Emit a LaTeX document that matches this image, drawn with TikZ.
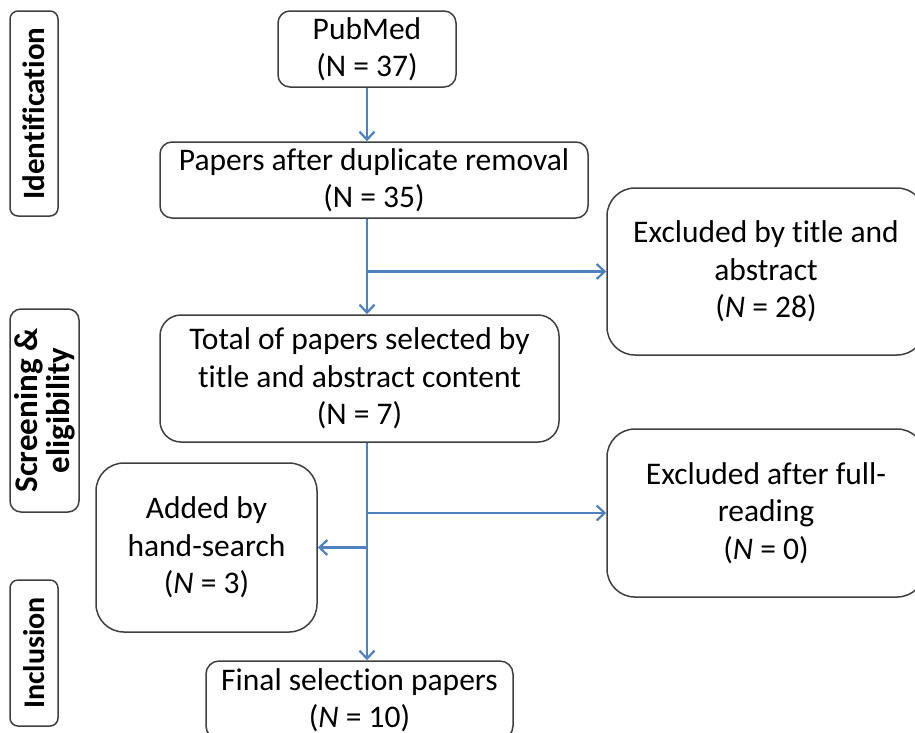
\documentclass[tikz,border=0pt]{standalone}
\usepackage{fontspec}
\setmainfont{Carlito}[Ligatures={NoCommon}]
\usetikzlibrary{arrows.meta}
\definecolor{arrowblue}{HTML}{4F81BD}
\definecolor{boxgray}{HTML}{3F3F3F}
\tikzset{
  box/.style={draw=boxgray, line width=1.5pt, align=center, inner sep=0pt,
    font=\fontsize{31.5}{37.5}\selectfont, text=black},
  lab/.style={draw=boxgray, line width=1.5pt, align=center, inner sep=0pt,
    rotate=90, font=\fontsize{31}{31}\selectfont\bfseries, text=black},
  arr/.style={draw=arrowblue, line width=2.2pt,
    -{Straight Barb[length=8pt,width=15pt]}}
}
\begin{document}
\begin{tikzpicture}[x=1pt,y=-1pt]
\useasboundingbox (0,0) rectangle (915,732);
\fill[white] (0,0) rectangle (915,732);
% left stage labels
\node[lab, minimum width=205pt, minimum height=48pt, rounded corners=8pt] (id) at (34,113.5) {Identification};
\node[lab, minimum width=203pt, minimum height=69pt, rounded corners=11pt,
  font=\fontsize{33}{32}\selectfont\bfseries] (scr) at (44.5,410.5) {Screening \&\\eligibility};
\node[lab, minimum width=146pt, minimum height=48pt, rounded corners=8pt,
  font=\fontsize{30}{30}\selectfont\bfseries] (inc) at (34,653) {Inclusion};
% flow boxes
\node[box, minimum width=178pt, minimum height=76pt, rounded corners=12pt] (pub) at (367,49) {PubMed\\(N = 37)};
\node[box, minimum width=428pt, minimum height=76pt, rounded corners=12pt] (dup) at (374,180) {Papers after duplicate removal\\(N = 35)};
\node[box, minimum width=318pt, minimum height=167pt, rounded corners=28pt] (ex1) at (766,271.5) {Excluded by title and\\abstract\\(\textit{N} = 28)};
\node[box, minimum width=399pt, minimum height=127pt, rounded corners=21pt] (tot) at (359.5,378.5) {Total of papers selected by\\title and abstract content\\(N = 7)};
\node[box, minimum width=318pt, minimum height=168pt, rounded corners=28pt] (ex2) at (766,513) {Excluded after full-\\reading\\(\textit{N} = 0)};
\node[box, minimum width=221pt, minimum height=169pt, rounded corners=28pt] (add) at (206.5,547.5) {Added by\\hand-search\\(\textit{N} = 3)};
\node[box, minimum width=307pt, minimum height=78pt, rounded corners=13pt] (fin) at (359.5,700) {Final selection papers\\(\textit{N} = 10)};
% connectors
\coordinate (a1) at (pub.south |- dup.south);
\coordinate (b1) at (pub.south |- ex1.west);
\coordinate (a2) at (pub.south |- tot.south);
\coordinate (b2) at (pub.south |- ex2.west);
\coordinate (b3) at (pub.south |- add.east);
\draw[arr] (pub.south) -- (pub.south |- dup.north);
\draw[arr] (a1) -- (pub.south |- tot.north);
\draw[arr] (b1) -- (ex1.west);
\draw[arr] (a2) -- (pub.south |- fin.north);
\draw[arr] (b2) -- (ex2.west);
\draw[arr] (b3) -- (add.east);
\end{tikzpicture}
\end{document}
